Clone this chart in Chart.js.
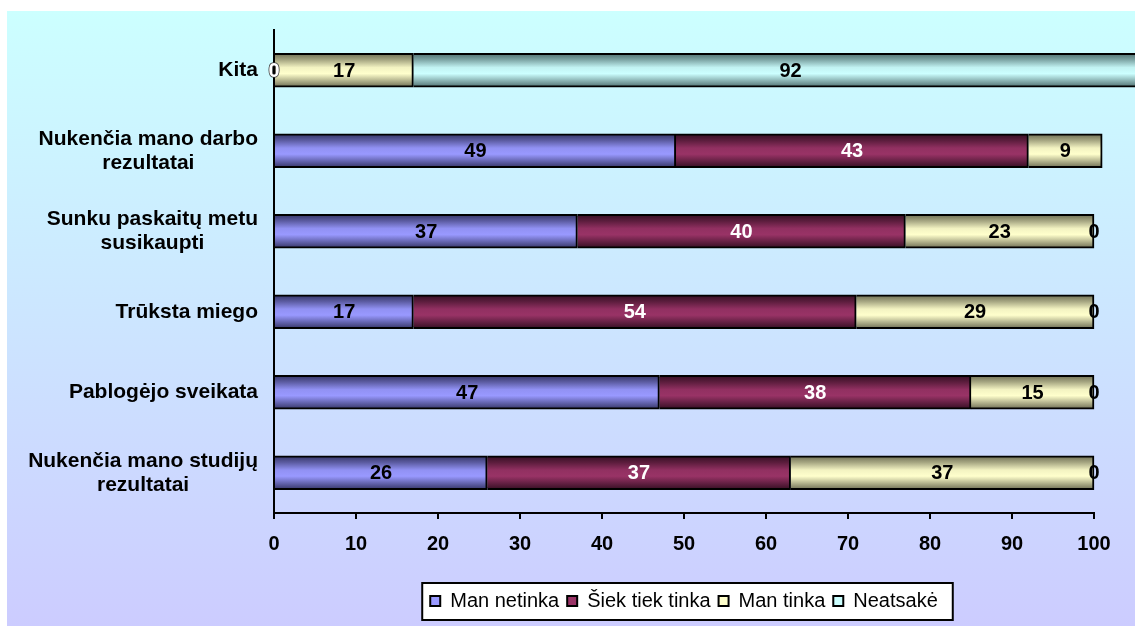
<!DOCTYPE html>
<html>
<head>
<meta charset="utf-8">
<script src="https://cdn.jsdelivr.net/npm/chart.js@4"></script>
<style>
  html, body { margin: 0; padding: 0; background: #fff; }
  canvas { display: block; }
</style>
</head>
<body>
<canvas id="chart" width="1135" height="626"></canvas>
<script>
const categories = [
  'Kita',
  ['Nukenčia mano darbo', 'rezultatai'],
  ['Sunku paskaitų metu', 'susikaupti'],
  'Trūksta miego',
  'Pablogėjo sveikata',
  ['Nukenčia mano studijų', 'rezultatai']
];
const seriesNames = ['Man netinka', 'Šiek tiek tinka', 'Man tinka', 'Neatsakė'];
const manNetinka = [0, 49, 37, 17, 47, 26];
const siekTiekTinka = [0, 43, 40, 54, 38, 37];
const manTinka = [17, 9, 23, 29, 15, 37];
const neatsake = [92, null, 0, 0, 0, 0];
const xTicks = [0, 10, 20, 30, 40, 50, 60, 70, 80, 90, 100];

// base colour, edge shade
const palette = [
  { base: '#9999FF', edge: [52, 52, 100] },
  { base: '#993366', edge: [52, 14, 34] },
  { base: '#FFFFCC', edge: [108, 108, 82] },
  { base: '#CCFFFF', edge: [78, 110, 110] }
];
const BAR = 34;
const FONT = 'Arial, "Liberation Sans", sans-serif';

function hexRgb(h) {
  return [1, 3, 5].map(i => parseInt(h.substr(i, 2), 16));
}
function mix(a, b, t) {
  return 'rgb(' + a.map((v, i) => Math.round(v + (b[i] - v) * t)).join(',') + ')';
}

// cylinder-like shading across the bar height
function barFill(idx) {
  return (ctx) => {
    const p = palette[idx];
    if (ctx.type !== 'data') return p.base;
    const chart = ctx.chart;
    const y = chart.scales.y.getPixelForValue(ctx.dataIndex);
    const g = chart.ctx.createLinearGradient(0, y - BAR / 2, 0, y + BAR / 2);
    const base = hexRgb(p.base);
    g.addColorStop(0, mix(p.edge, base, 0));
    g.addColorStop(0.2, mix(p.edge, base, 0.4));
    g.addColorStop(0.42, mix(p.edge, base, 0.92));
    g.addColorStop(0.6, mix(p.edge, base, 1));
    g.addColorStop(0.82, mix(p.edge, base, 0.45));
    g.addColorStop(1, mix(p.edge, base, 0));
    return g;
  };
}

const seriesData = [manNetinka, siekTiekTinka, manTinka, neatsake];

const panelBackground = {
  id: 'panelBackground',
  beforeDraw(chart) {
    const { ctx, width, height } = chart;
    ctx.save();
    ctx.fillStyle = '#ffffff';
    ctx.fillRect(0, 0, width, height);
    const g = ctx.createLinearGradient(0, 11, 0, height);
    g.addColorStop(0, '#CCFFFF');
    g.addColorStop(1, '#CCCCFF');
    ctx.fillStyle = g;
    ctx.fillRect(7, 11, width - 7, height - 11);

    // legend frame
    const boxes = chart.legend.legendHitBoxes;
    if (boxes && boxes.length) {
      const first = boxes[0];
      const last = boxes[boxes.length - 1];
      const left = first.left - 8;
      const right = last.left + last.width + 15;
      const top = first.top - 8;
      const bottom = first.top + first.height + 9;
      ctx.fillStyle = '#ffffff';
      ctx.fillRect(left, top, right - left, bottom - top);
      ctx.strokeStyle = '#000';
      ctx.lineWidth = 2;
      ctx.strokeRect(left, top, right - left, bottom - top);
    }
    ctx.restore();
  }
};

// category names: right-aligned block, lines centred inside it
const categoryLabels = {
  id: 'categoryLabels',
  afterDraw(chart) {
    const { ctx } = chart;
    const yScale = chart.scales.y;
    const right = chart.chartArea.left - 16;
    ctx.save();
    ctx.font = 'bold 21px ' + FONT;
    ctx.fillStyle = '#000';
    ctx.textAlign = 'center';
    ctx.textBaseline = 'middle';
    categories.forEach((label, i) => {
      const lines = Array.isArray(label) ? label : [label];
      const w = Math.max(...lines.map(l => ctx.measureText(l).width));
      const cx = right - w / 2;
      const cy = yScale.getPixelForValue(i);
      const lh = 24;
      lines.forEach((line, j) => {
        ctx.fillText(line, cx, cy + (j - (lines.length - 1) / 2) * lh);
      });
    });
    ctx.restore();
  }
};

// value labels in the middle of each segment
const valueLabels = {
  id: 'valueLabels',
  afterDraw(chart) {
    const { ctx } = chart;
    ctx.save();
    ctx.font = 'bold 20px ' + FONT;
    ctx.textAlign = 'center';
    ctx.textBaseline = 'middle';
    chart.data.datasets.forEach((ds, di) => {
      const meta = chart.getDatasetMeta(di);
      meta.data.forEach((el, i) => {
        const v = ds.data[i];
        if (v === null || v === undefined) return;
        const x = (el.x + el.base) / 2;
        if (di === 1) {
          // white text keeps a thin dark rim where it overlaps other labels
          ctx.lineWidth = 1.5;
          ctx.strokeStyle = v === 0 ? '#333' : 'rgba(0,0,0,0)';
          ctx.strokeText(String(v), x, el.y + 1);
          ctx.fillStyle = '#ffffff';
        } else {
          ctx.fillStyle = '#000000';
        }
        ctx.fillText(String(v), x, el.y + 1);
      });
    });
    ctx.restore();
  }
};

new Chart(document.getElementById('chart'), {
  type: 'bar',
  data: {
    labels: categories,
    datasets: seriesData.map((data, i) => ({
      label: seriesNames[i],
      data: data,
      backgroundColor: barFill(i),
      borderColor: '#000',
      borderWidth: 2,
      barThickness: BAR,
      clip: false
    }))
  },
  options: {
    indexAxis: 'y',
    responsive: false,
    animation: false,
    layout: { padding: { left: 274, right: 41, top: 30, bottom: 5 } },
    plugins: {
      tooltip: { enabled: false },
      legend: {
        position: 'bottom',
        labels: {
          color: '#000',
          font: { family: FONT, size: 20 },
          boxWidth: 10,
          boxHeight: 10,
          padding: 8,
          generateLabels: (chart) => chart.data.datasets.map((ds, i) => ({
            text: ds.label,
            fillStyle: palette[i].base,
            strokeStyle: '#000',
            lineWidth: 2,
            hidden: false,
            datasetIndex: i
          }))
        }
      }
    },
    scales: {
      x: {
        stacked: true,
        min: 0,
        max: 100,
        z: 1,
        afterBuildTicks: (scale) => { scale.ticks = xTicks.map(v => ({ value: v })); },
        afterFit: (scale) => { scale.height = 70; },
        grid: {
          display: true,
          drawOnChartArea: false,
          drawTicks: true,
          tickLength: 6,
          color: '#000',
          lineWidth: 2
        },
        border: { display: true, color: '#000', width: 2 },
        ticks: {
          color: '#000',
          padding: 13,
          maxRotation: 0,
          font: { family: FONT, size: 20, weight: 'bold' }
        }
      },
      y: {
        stacked: true,
        z: 1,
        afterFit: (scale) => { scale.width = 0; },
        grid: { display: false },
        border: { display: true, color: '#000', width: 2 },
        ticks: { display: false }
      }
    }
  },
  plugins: [panelBackground, categoryLabels, valueLabels]
});
</script>
</body>
</html>
